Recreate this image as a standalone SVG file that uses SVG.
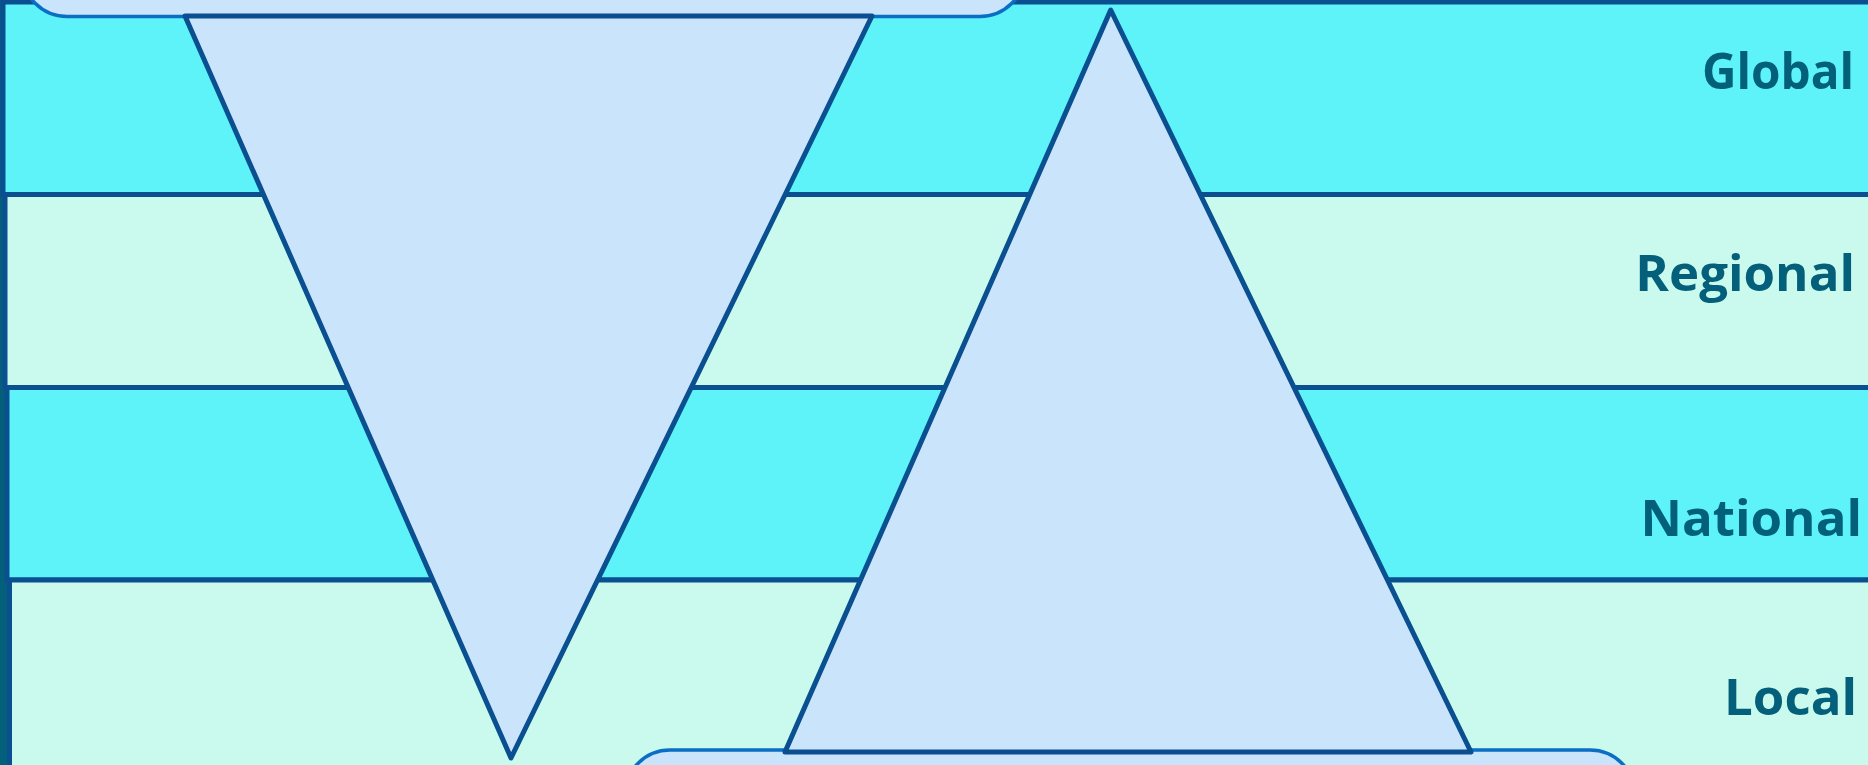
<svg xmlns="http://www.w3.org/2000/svg" width="1868" height="765" viewBox="0 0 1868 765">
  <style>
    .band { stroke: #0a4f8f; stroke-width: 5; }
    .cyan { fill: #5df3f8; }
    .mint { fill: #cafaee; }
    .tri { fill: #cae4fb; stroke: #0a4f8f; stroke-width: 5; stroke-linejoin: round; }
    .pill { fill: #cae4fb; stroke: #0a6ec4; stroke-width: 3.5; }
    .lbl { font-family: "Open Sans", "Noto Sans", sans-serif; font-weight: 700; font-size: 51px; fill: #04607a; text-anchor: end; }
  </style>
  <rect x="0" y="0" width="12" height="765" fill="#045f7b"/>
  <g id="band-global">
    <rect class="band cyan" x="3" y="2" width="1900" height="192.5"/>
  </g>
  <g id="band-regional">
    <rect class="band mint" x="5" y="194.5" width="1900" height="193"/>
  </g>
  <g id="band-national">
    <rect class="band cyan" x="7" y="387.5" width="1900" height="192.5"/>
  </g>
  <g id="band-local">
    <rect class="band mint" x="9.5" y="580" width="1900" height="220"/>
  </g>
  <g id="pill-top">
    <rect class="pill" x="22" y="-200" width="1003" height="216.5" rx="45" ry="45"/>
  </g>
  <g id="pill-bottom">
    <rect class="pill" x="625" y="750" width="1010" height="200" rx="45" ry="45"/>
  </g>
  <g id="triangle-down">
    <polygon class="tri" points="185,16 872,16 511,758"/>
  </g>
  <g id="triangle-up">
    <polygon class="tri" points="1110.7,10 1471,752 785,752"/>
  </g>
  <g id="labels">
    <text class="lbl" x="1854" y="89" textLength="152" lengthAdjust="spacingAndGlyphs">Global</text>
    <text class="lbl" x="1855" y="291">Regional</text>
    <text class="lbl" x="1862" y="536">National</text>
    <text class="lbl" x="1857" y="715">Local</text>
  </g>
  <g id="connectors"/>
</svg>
